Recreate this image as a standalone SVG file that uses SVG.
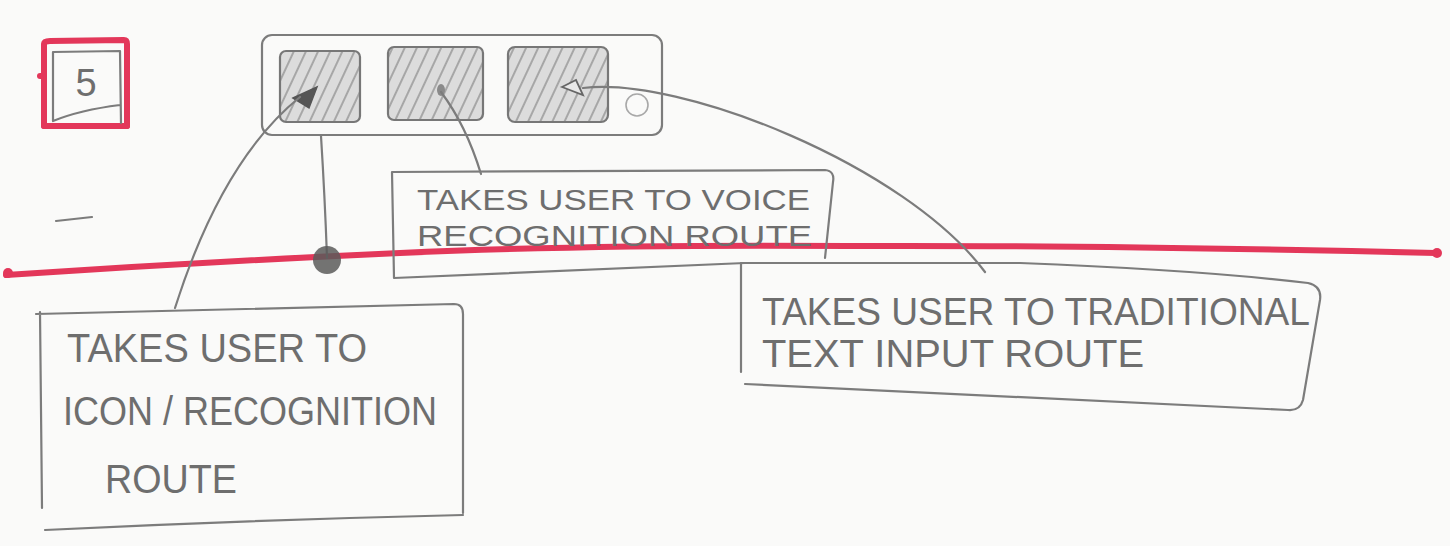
<svg xmlns="http://www.w3.org/2000/svg" width="1450" height="546" viewBox="0 0 1450 546">
<defs>
<pattern id="hatch" patternUnits="userSpaceOnUse" width="11" height="11" patternTransform="rotate(25)">
<rect width="11" height="11" fill="#dcdcdc"/>
<line x1="2" y1="0" x2="2" y2="11" stroke="#8a8a8a" stroke-width="1.3"/>
</pattern>
<style>
.pen{fill:none;stroke:#7c7c7c;stroke-width:2.2;stroke-linecap:round;stroke-linejoin:round}
.pen-l{fill:none;stroke:#a8a8a8;stroke-width:1.6}
.red{fill:none;stroke:#e3375a;stroke-width:6;stroke-linecap:round;stroke-linejoin:round}
.btn{fill:url(#hatch);stroke:#777;stroke-width:2.2}
.hand{font-family:"Liberation Sans","DejaVu Sans",sans-serif;fill:#6e6e6e}
</style>
</defs>
<rect width="1450" height="546" fill="#fafaf9"/>

<g id="timeline">
<path class="red" d="M6,275 Q200,262 400,253 T850,246 Q1100,245 1436,253"/>
<circle cx="8" cy="273" r="5" fill="#e3375a"/>
<circle cx="1437" cy="253" r="5" fill="#e3375a"/>
</g>

<g id="step-5">
<path class="red" d="M44,44 L44,126 M44,44 Q44,41 50,41 L124,40 Q127,40 127,44 L127,126"/>
<path class="red" stroke-width="8" d="M44,126 L127,126"/>
<path class="red" d="M40,76 L44,76"/>
<path class="pen" d="M53,52 L120,51 L121,123 M53,52 L53,121 M53,121 Q80,110 120,105"/>
<text class="hand" x="86" y="96" font-size="38" text-anchor="middle" fill="#555">5</text>
</g>

<g id="dash">
<path class="pen" d="M56,221 L92,217"/>
</g>

<g id="toolbar">
<rect class="pen" x="262" y="35" width="400" height="100" rx="10"/>
<rect class="btn" x="280" y="51" width="80" height="71" rx="6"/>
<rect class="btn" x="388" y="47" width="95" height="73" rx="6"/>
<rect class="btn" x="508" y="47" width="100" height="75" rx="7"/>
<circle class="pen-l" cx="637" cy="105" r="11"/>
<polygon points="293,98 317,87 309,108" fill="#555" stroke="#555" stroke-width="1.5"/>
<ellipse cx="441" cy="90" rx="4" ry="6" fill="#8a8a8a"/>
<polygon points="562,87 576,80 583,95" fill="#e8e8e8" stroke="#666" stroke-width="1.8"/>
</g>

<g id="connectors">
<path class="pen" d="M300,97 Q222,160 175,308"/>
<path class="pen" d="M441,92 Q466,125 481,174"/>
<path class="pen" d="M583,88 C680,76 905,165 985,272"/>
<path class="pen" d="M321,136 Q325,200 327,258"/>
<circle cx="327" cy="260" r="14" fill="#5a5a5a" opacity="0.85"/>
</g>

<g id="voice-note">
<path class="pen" d="M392,172 L825,170 Q835,171 833,182 L825,258 M392,172 L394,278 L745,263"/>
<text class="hand" font-size="29" x="417" y="210" textLength="393" lengthAdjust="spacingAndGlyphs">TAKES USER TO VOICE</text>
<text class="hand" font-size="29" x="417" y="246" textLength="395" lengthAdjust="spacingAndGlyphs">RECOGNITION ROUTE</text>
</g>

<g id="text-input-note">
<path class="pen" d="M741,263 L1020,263 Q1200,270 1308,283 Q1322,286 1320,300 L1303,400 Q1300,411 1288,410 L745,384 M741,263 L741,372"/>
<text class="hand" font-size="38" x="762" y="325" textLength="548" lengthAdjust="spacingAndGlyphs">TAKES USER TO TRADITIONAL</text>
<text class="hand" font-size="38" x="762" y="367" textLength="382" lengthAdjust="spacingAndGlyphs">TEXT INPUT ROUTE</text>
</g>

<g id="icon-note">
<path class="pen" d="M36,314 L454,304 Q463,304 463,314 L463,513 M40,312 L42,508 M45,530 Q250,520 463,515"/>
<text class="hand" font-size="40" x="67" y="362" textLength="300" lengthAdjust="spacingAndGlyphs">TAKES USER TO</text>
<text class="hand" font-size="40" x="63" y="425" textLength="374" lengthAdjust="spacingAndGlyphs">ICON / RECOGNITION</text>
<text class="hand" font-size="40" x="105" y="493" textLength="132" lengthAdjust="spacingAndGlyphs">ROUTE</text>
</g>
</svg>
